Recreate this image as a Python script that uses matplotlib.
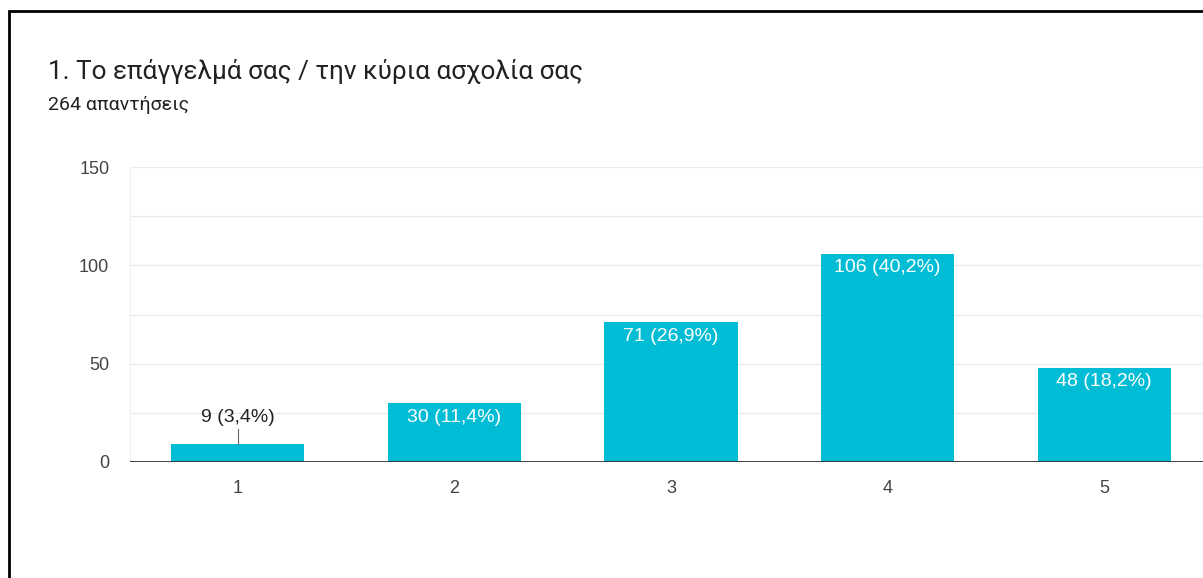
import matplotlib.pyplot as plt
from matplotlib.patches import Rectangle

# data
categories = [1, 2, 3, 4, 5]
counts = [9, 30, 71, 106, 48]
percents = ['3,4%', '11,4%', '26,9%', '40,2%', '18,2%']
title = '1. Το επάγγελμά σας / την κύρια ασχολία σας'
subtitle = '264 απαντήσεις'

W, H = 1203, 578
fig = plt.figure(figsize=(W / 100, H / 100), dpi=100)

# frame of the screenshot (right and bottom edges fall outside)
fig.patches.append(Rectangle((9 / W, -0.1), 1.2, (H - 11) / H + 0.1,
                             transform=fig.transFigure, fill=False,
                             edgecolor='black', linewidth=2))

fig.text(48 / W, 1 - 72 / H, title, fontsize=18.8, family='Roboto',
         color='#202124', va='center')
fig.text(48 / W, 1 - 105 / H, subtitle, fontsize=14, family='Roboto',
         color='#202124', va='center')

ax = fig.add_axes([129.5 / W, 116 / H, 1083 / W, 295 / H])
ax.set_xlim(0.5, 5.5)
ax.set_ylim(0, 150)

for y in range(25, 151, 25):
    ax.axhline(y, color='#ebebeb', lw=1, zorder=0)
ax.axvline(0.5, color='#ebebeb', lw=1.2, zorder=0)

ax.bar(categories, counts, width=0.615, color='#00bcd4', zorder=2)
ax.axhline(0, color='#333333', lw=1.3, zorder=3)

for x, c, p in zip(categories, counts, percents):
    label = f'{c} ({p})'
    if c < 20:
        ax.plot([x, x], [c, c + 8], color='#666666', lw=0.8, zorder=3)
        ax.annotate(label, (x, c + 8), xytext=(0, 2), textcoords='offset points',
                    ha='center', va='bottom', fontsize=14,
                    family='Liberation Sans', color='#222222')
    else:
        ax.annotate(label, (x, c), xytext=(0, -4), textcoords='offset points',
                    ha='center', va='top', fontsize=14,
                    family='Liberation Sans', color='white', zorder=4)

ax.set_yticks([0, 50, 100, 150])
ax.set_xticks(categories)
ax.tick_params(length=0, labelsize=13, colors='#444444')
ax.tick_params(axis='x', pad=13)
ax.tick_params(axis='y', pad=14.5)
for lbl in ax.get_xticklabels() + ax.get_yticklabels():
    lbl.set_family('Liberation Sans')
for s in ax.spines.values():
    s.set_visible(False)

fig.savefig('out.png', dpi=100)
